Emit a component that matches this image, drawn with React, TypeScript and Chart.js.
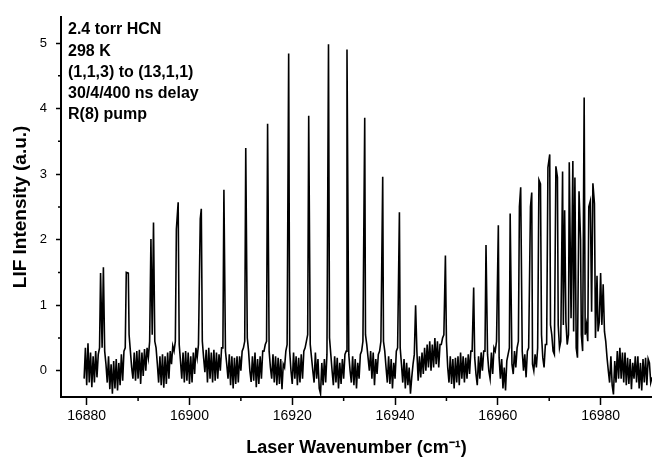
import React, { useEffect, useRef } from "react";
import { Chart, registerables } from "chart.js";

Chart.register(...registerables);

// Baseline (noise) samples of the LIF trace, starting at 16879.5 cm-1, one every 0.25 cm-1
const baselineStart = 16879.5;
const baselineStep = 0.25;
const baselineNoise = [
  -0.12, 0.35, -0.22, 0.42, -0.18, 0.28, -0.25, 0.22, -0.18, 0.3, -0.1, 0.25, 0.35, 0.5, 0.35, 0.55, 0.3, 0.1, -0.18, 0.22,
  -0.28, 0.1, -0.35, 0.15, -0.27, 0.18, -0.3, 0.12, -0.22, 0.25, -0.15, 0.3, 0.35, 0.5, 0.4, 0.55, 0.3, 0.05, -0.12, 0.28,
  -0.15, 0.3, -0.12, 0.32, -0.2, 0.28, -0.08, 0.33, 0.0, 0.35, 0.2, 0.45, 0.5, 0.55, 0.6, 0.45, 0.35, 0.1, -0.18, 0.22,
  -0.22, 0.25, -0.26, 0.22, -0.2, 0.28, -0.12, 0.3, 0.1, 0.38, 0.3, 0.45, 0.5, 0.45, 0.4, 0.15, -0.12, 0.28, -0.18, 0.3,
  -0.15, 0.28, -0.2, 0.22, -0.18, 0.28, -0.05, 0.35, 0.2, 0.4, 0.5, 0.55, 0.45, 0.2, -0.02, 0.32, -0.18, 0.35, -0.12, 0.28,
  -0.18, 0.32, -0.15, 0.28, -0.12, 0.25, 0.0, 0.35, 0.35, 0.5, 0.3, 0.1, -0.12, 0.25, -0.22, 0.22, -0.27, 0.2, -0.2, 0.22,
  -0.18, 0.22, 0.0, 0.3, 0.35, 0.45, 0.4, 0.5, 0.3, 0.0, -0.17, 0.22, -0.15, 0.28, -0.25, 0.18, -0.2, 0.22, -0.12, 0.3,
  0.3, 0.4, 0.45, 0.5, 0.3, 0.05, -0.12, 0.25, -0.18, 0.22, -0.22, 0.2, -0.2, 0.18, -0.28, 0.1, 0.05, 0.3, 0.4, 0.5,
  0.3, 0.0, -0.2, 0.28, -0.12, 0.22, -0.22, 0.2, -0.18, 0.25, -0.12, 0.3, 0.35, 0.45, 0.55, 0.6, 0.4, 0.2, 0.0, -0.18,
  0.28, -0.12, 0.18, -0.27, -0.35, 0.12, -0.22, 0.18, -0.18, 0.25, 0.35, 0.5, 0.25, 0.0, -0.22, 0.22, -0.18, 0.2, -0.27, 0.12,
  -0.2, 0.18, -0.12, 0.25, 0.3, 0.45, 0.25, 0.0, -0.18, 0.22, -0.22, 0.18, -0.27, 0.12, -0.12, 0.25, 0.3, 0.45, 0.5, 0.55,
  0.4, 0.2, 0.0, 0.3, -0.12, 0.28, -0.22, 0.18, -0.05, 0.25, 0.3, 0.45, 0.4, 0.45, 0.3, 0.05, -0.18, 0.22, -0.2, 0.18,
  -0.27, 0.12, -0.12, 0.3, 0.35, 0.45, 0.35, 0.1, -0.18, 0.18, -0.27, 0.12, -0.22, 0.05, -0.35, -0.1, 0.1, 0.25, 0.35, 0.3,
  -0.15, 0.22, -0.1, 0.28, -0.05, 0.35, 0.0, 0.4, 0.05, 0.45, 0.0, 0.4, 0.05, 0.5, 0.1, 0.45, 0.05, 0.4, 0.4, 0.5,
  0.55, 0.6, 0.45, 0.05, -0.18, 0.22, -0.2, 0.18, -0.27, 0.2, -0.18, 0.22, -0.22, 0.28, -0.12, 0.22, -0.18, 0.2, -0.12, 0.25,
  -0.05, 0.3, 0.3, 0.4, 0.2, -0.05, -0.22, 0.22, -0.12, 0.28, 0.0, 0.3, 0.3, 0.45, 0.25, 0.0, -0.12, 0.28, -0.05, 0.35,
  0.3, 0.45, 0.4, 0.2, -0.12, 0.18, -0.27, 0.05, -0.3, 0.15, 0.25, 0.35, 0.4, 0.1, -0.05, 0.3, 0.05, 0.35, 0.45, 0.5,
  0.5, 0.3, 0.0, 0.25, -0.1, 0.3, 0.35, 0.45, 0.4, 0.1, 0.0, 0.25, 0.05, 0.35, 0.3, 0.5, 0.55, 0.2, 0.05, 0.4,
  0.4, 0.55, 0.5, 0.7, 0.55, 0.3, 0.25, 0.5, 0.6, 0.7, 0.35, 0.45, 0.55, 0.7, 0.6, 0.75, 0.4, 0.55, 0.6, 0.8,
  0.7, 0.6, 0.5, 0.35, 0.2, 0.35, 0.4, 0.55, 0.3, 0.6, 0.55, 0.7, 0.45, 0.6, 0.7, 0.9, 0.8, 0.6, 0.5, 0.7,
  0.6, 0.75, 0.8, 0.7, 0.55, 0.6, 0.45, 0.2, 0.0, -0.18, 0.22, -0.22, -0.36, 0.15, -0.18, 0.3, -0.12, 0.35, -0.12, 0.28,
  -0.18, 0.28, -0.22, 0.2, -0.2, 0.18, -0.28, 0.12, -0.12, 0.22, -0.18, 0.22, -0.27, 0.12, -0.3, 0.18, -0.18, 0.2, -0.22, 0.18,
  0.12, -0.18, -0.1,
];

// Rotational lines: positions (cm-1) and peak intensities (a.u.)
const peakWavenumbers = [
  16882.7, 16883.25, 16887.7, 16888.1, 16892.5, 16893.0, 16897.45, 16897.8,
  16902.1, 16902.3, 16906.7, 16910.95, 16915.2, 16919.3, 16923.2, 16927.05,
  16930.65, 16934.1, 16937.6, 16940.85, 16944.0, 16949.8, 16955.3, 16957.7,
  16960.1, 16962.4, 16964.2, 16964.45, 16966.35, 16966.6, 16968.0, 16968.3,
  16969.75, 16970.1, 16971.3, 16971.6, 16972.6, 16973.0, 16973.9, 16974.6,
  16975.0, 16975.8, 16976.1, 16976.8, 16977.7, 16978.0, 16978.5, 16978.8,
  16979.3, 16980.0, 16980.5,
];
const peakIntensities = [
  1.49, 1.58, 1.5, 1.49, 2.01, 2.26, 2.16, 2.57,
  2.32, 2.47, 2.76, 3.4, 3.77, 4.84, 3.89, 4.98,
  4.9, 3.86, 2.96, 2.42, 1.0, 1.76, 1.27, 1.92,
  2.22, 2.4, 2.5, 2.8, 2.5, 2.72, 2.91, 2.85,
  3.1, 3.3, 3.12, 2.95, 3.04, 2.45, 3.18, 3.2,
  2.95, 2.74, 2.0, 4.17, 2.5, 2.59, 2.86, 2.55,
  1.45, 1.49, 1.32,
];

const xMajorTicks = [16880, 16900, 16920, 16940, 16960, 16980];
const xMinorTicks = [16890, 16910, 16930, 16950, 16970];
const yMajorTicks = [0, 1, 2, 3, 4, 5];
const yMinorTicks = [0.5, 1.5, 2.5, 3.5, 4.5];

const annotationLines = [
  "2.4 torr HCN",
  "298 K",
  "(1,1,3) to (13,1,1)",
  "30/4/400 ns delay",
  "R(8) pump",
];
const xTitle = "Laser Wavenumber (cm\u207B\u00B9)";
const yTitle = "LIF Intensity (a.u.)";

const FONT = "'Liberation Sans', Arial, Helvetica, sans-serif";

function buildSpectrum() {
  const pts: { x: number; y: number }[] = [];
  baselineNoise.forEach((v, i) => {
    const x = baselineStart + i * baselineStep;
    if (peakWavenumbers.some((p) => Math.abs(p - x) < 0.1)) return;
    pts.push({ x, y: v });
  });
  peakWavenumbers.forEach((p, i) => pts.push({ x: p, y: peakIntensities[i] }));
  pts.sort((a, b) => a.x - b.x);
  return pts;
}

export default function App() {
  const ref = useRef<HTMLCanvasElement>(null);

  useEffect(() => {
    document.body.style.margin = "0";
    const canvas = ref.current;
    if (!canvas) return;

    const minorTicks = {
      id: "minorTicks",
      afterDraw(chart: any) {
        const ctx = chart.ctx;
        const xs = chart.scales.x;
        const ys = chart.scales.y;
        ctx.save();
        ctx.strokeStyle = "#000";
        ctx.lineWidth = 1.5;
        ctx.beginPath();
        xMinorTicks.forEach((v) => {
          const px = xs.getPixelForValue(v);
          ctx.moveTo(px, chart.chartArea.bottom);
          ctx.lineTo(px, chart.chartArea.bottom + 4);
        });
        yMinorTicks.forEach((v) => {
          const py = ys.getPixelForValue(v);
          ctx.moveTo(chart.chartArea.left - 3, py);
          ctx.lineTo(chart.chartArea.left, py);
        });
        ctx.stroke();
        ctx.restore();
      },
    };

    const annotation = {
      id: "annotation",
      afterDraw(chart: any) {
        const ctx = chart.ctx;
        const { left, top } = chart.chartArea;
        ctx.save();
        ctx.fillStyle = "#000";
        ctx.font = `bold 16px ${FONT}`;
        ctx.textBaseline = "alphabetic";
        ctx.textAlign = "left";
        annotationLines.forEach((t, i) => {
          ctx.fillText(t, left + 7, top + 17.5 + i * 21.25);
        });
        ctx.restore();
      },
    };

    const chart = new Chart(canvas, {
      type: "line",
      data: {
        datasets: [
          {
            data: buildSpectrum(),
            borderColor: "#000",
            borderWidth: 1.6,
            pointRadius: 0,
            tension: 0,
            fill: false,
          },
        ],
      },
      options: {
        responsive: false,
        animation: false,
        devicePixelRatio: 1,
        layout: { padding: { top: 12, right: 0, bottom: 0, left: 0 } },
        plugins: {
          legend: { display: false },
          tooltip: { enabled: false },
          title: { display: false },
        },
        scales: {
          x: {
            type: "linear",
            min: 16875,
            max: 16990,
            afterBuildTicks: (s: any) => {
              s.ticks = xMajorTicks.map((v) => ({ value: v }));
            },
            afterFit: (s: any) => {
              s.height = 60;
            },
            ticks: {
              color: "#000",
              font: { family: FONT, size: 14 },
              padding: 3,
              maxRotation: 0,
              autoSkip: false,
              callback: (v: any) => String(v),
            },
            grid: {
              display: true,
              drawOnChartArea: false,
              drawTicks: true,
              tickLength: 8,
              tickWidth: 1.5,
              tickColor: "#000",
              color: "#000",
            },
            border: { display: true, width: 2, color: "#000" },
            title: {
              display: true,
              text: xTitle,
              color: "#000",
              font: { family: FONT, size: 18, weight: "bold", lineHeight: 1 },
              padding: { top: 0, bottom: 0 },
            },
          },
          y: {
            type: "linear",
            min: -0.4,
            max: 5.4,
            afterBuildTicks: (s: any) => {
              s.ticks = yMajorTicks.map((v) => ({ value: v }));
            },
            afterFit: (s: any) => {
              s.width = 61;
            },
            ticks: {
              color: "#000",
              font: { family: FONT, size: 13 },
              padding: 9,
              autoSkip: false,
              callback: (v: any) => String(v),
            },
            grid: {
              display: true,
              drawOnChartArea: false,
              drawTicks: true,
              tickLength: 5,
              tickWidth: 1.5,
              tickColor: "#000",
              color: "#000",
            },
            border: { display: true, width: 2, color: "#000" },
            title: {
              display: true,
              text: yTitle,
              color: "#000",
              font: { family: FONT, size: 19, weight: "bold", lineHeight: 1 },
              padding: { top: 11.5, bottom: 0 },
            },
          },
        },
      },
      plugins: [minorTicks, annotation],
    });

    return () => chart.destroy();
  }, []);

  return (
    <div style={{ width: 652, height: 457 }}>
      <canvas ref={ref} width={652} height={457} style={{ display: "block" }} />
    </div>
  );
}
